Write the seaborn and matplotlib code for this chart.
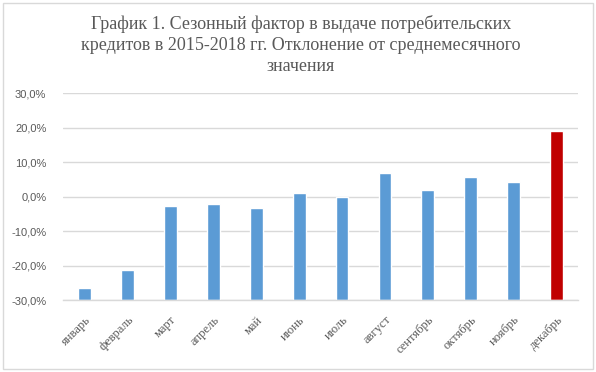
import matplotlib
matplotlib.use("Agg")
import matplotlib.pyplot as plt
import seaborn as sns
import pandas as pd
from matplotlib.patches import Rectangle
from matplotlib.ticker import FuncFormatter

months = ["январь", "февраль", "март", "апрель", "май", "июнь",
          "июль", "август", "сентябрь", "октябрь", "ноябрь", "декабрь"]
deviation = [-26.6, -21.4, -2.8, -2.2, -3.4, 1.0,
             -0.2, 6.8, 1.8, 5.6, 4.4, 19.2]
bar_colors = ["#5b9bd5"] * 11 + ["#c00000"]

title = ("График 1. Сезонный фактор в выдаче потребительских\n"
         "кредитов в 2015-2018 гг. Отклонение от среднемесячного\n"
         "значения")

# Excel axis crosses at -30%, so bars grow up from the bottom
base = -30
df = pd.DataFrame({"month": months, "value": deviation})
df["height"] = df["value"] - base

sns.set_theme(style="white")
plt.rcParams["font.family"] = ["Liberation Sans", "DejaVu Sans"]

fig = plt.figure(figsize=(5.96, 3.72), dpi=100)
ax = fig.add_axes([0.1057, 0.1935, 0.8643, 0.5555])

sns.barplot(data=df, x="month", y="height", hue="month",
            palette=bar_colors, width=0.3, legend=False, ax=ax,
            saturation=1)

ax.set_xlim(-0.5, 11.5)
ax.set_ylim(0, 60)
ax.set_yticks(range(0, 61, 10))
ax.yaxis.set_major_formatter(
    FuncFormatter(lambda v, _: f"{v + base:.1f}%".replace(".", ",")))
ax.grid(axis="y", color="#d9d9d9", linewidth=1)
ax.set_axisbelow(True)
for s in ["top", "right", "left"]:
    ax.spines[s].set_visible(False)
ax.spines["bottom"].set_color("#d9d9d9")
ax.spines["bottom"].set_linewidth(1)

ax.set_xlabel("")
ax.set_ylabel("")
ax.tick_params(axis="y", length=0, labelsize=8, labelcolor="#595959", pad=12)
ax.tick_params(axis="x", length=0, pad=10)
ax.set_xticks(range(len(months)))
ax.set_xticklabels(months, rotation=45, ha="right", rotation_mode="anchor",
                   fontsize=9, color="#595959", family="Liberation Serif")

fig.text(0.505, 0.96, title, ha="center", va="top", fontsize=13,
         color="#595959", family="Liberation Serif", linespacing=1.3)

fig.patches.append(Rectangle((0.005, 0.008), 0.99, 0.985,
                             transform=fig.transFigure, fill=False,
                             edgecolor="#d9d9d9", linewidth=1))

fig.savefig("out.png", dpi=100)
